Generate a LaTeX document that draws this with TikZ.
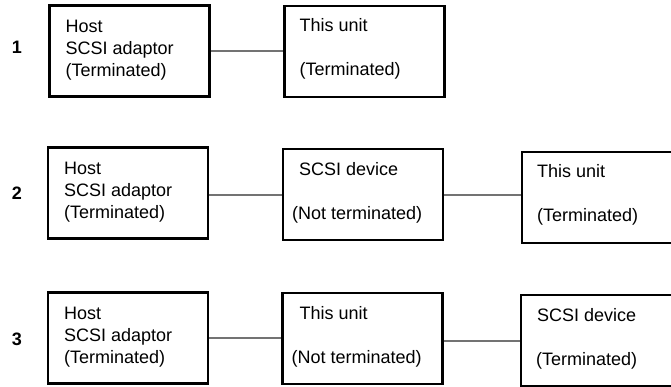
\documentclass[tikz,border=0pt]{standalone}
\usepackage{fontspec}
\setmainfont{Liberation Sans}
\usetikzlibrary{calc}
\begin{document}
\begin{tikzpicture}[x=1pt,y=-1pt,
  box/.style={draw=black, line width=2.2pt, minimum width=160pt, minimum height=91pt, inner sep=0pt},
  txt/.style={anchor=base west, inner sep=0pt, font=\fontsize{18}{22}\selectfont},
  num/.style={inner sep=0pt, font=\fontsize{18}{22}\selectfont\bfseries},
  wire/.style={draw=black!55, line width=1.7pt}]
\useasboundingbox (0,0) rectangle (671,387);
\clip (0,0) rectangle (671,387);
% row 1
\node[num] (n1) at (17,47) {1};
\node[box] (a1) at (129.5,51) {};
\node[box] (b1) at (364.5,51.5) {};
\node[txt] (a1t1) at ($(a1.north west)+(17,28)$) {Host};
\node[txt] (a1t2) at ($(a1.north west)+(17,50)$) {SCSI adaptor};
\node[txt] (a1t3) at ($(a1.north west)+(17,72)$) {(Terminated)};
\node[txt] (b1t1) at ($(b1.north west)+(16,27)$) {This unit};
\node[txt] (b1t3) at ($(b1.north west)+(16,71)$) {(Terminated)};
\draw[wire] (a1.east) -- (a1.east -| b1.west);
% row 2
\node[num] (n2) at (17,193) {2};
\node[box] (a2) at (128,193) {};
\node[box] (b2) at (363,194.5) {};
\node[box] (c2) at (602,197.5) {};
\node[txt] (a2t1) at ($(a2.north west)+(17,28)$) {Host};
\node[txt] (a2t2) at ($(a2.north west)+(17,50)$) {SCSI adaptor};
\node[txt] (a2t3) at ($(a2.north west)+(17,72)$) {(Terminated)};
\node[txt] (b2t1) at ($(b2.north west)+(17,28)$) {SCSI device};
\node[txt] (b2t3) at ($(b2.north west)+(10,72)$) {(Not terminated)};
\node[txt] (c2t1) at ($(c2.north west)+(16,27)$) {This unit};
\node[txt] (c2t3) at ($(c2.north west)+(16,71)$) {(Terminated)};
\coordinate (w2a) at ($(a2.east)+(0,2)$);
\coordinate (w2b) at ($(b2.east)+(0,0.5)$);
\draw[wire] (w2a) -- (w2a -| b2.west);
\draw[wire] (w2b) -- (w2b -| c2.west);
% row 3
\node[num] (n3) at (17,339) {3};
\node[box] (a3) at (128,338) {};
\node[box] (b3) at (362.5,338.5) {};
\node[box] (c3) at (601,340.5) {};
\node[txt] (a3t1) at ($(a3.north west)+(17,28)$) {Host};
\node[txt] (a3t2) at ($(a3.north west)+(17,50)$) {SCSI adaptor};
\node[txt] (a3t3) at ($(a3.north west)+(17,72)$) {(Terminated)};
\node[txt] (b3t1) at ($(b3.north west)+(18,28)$) {This unit};
\node[txt] (b3t3) at ($(b3.north west)+(10,72)$) {(Not terminated)};
\node[txt] (c3t1) at ($(c3.north west)+(17,28)$) {SCSI device};
\node[txt] (c3t3) at ($(c3.north west)+(16,72)$) {(Terminated)};
\coordinate (w3b) at ($(b3.east)+(0,2.5)$);
\draw[wire] (a3.east) -- (a3.east -| b3.west);
\draw[wire] (w3b) -- (w3b -| c3.west);
\end{tikzpicture}
\end{document}
